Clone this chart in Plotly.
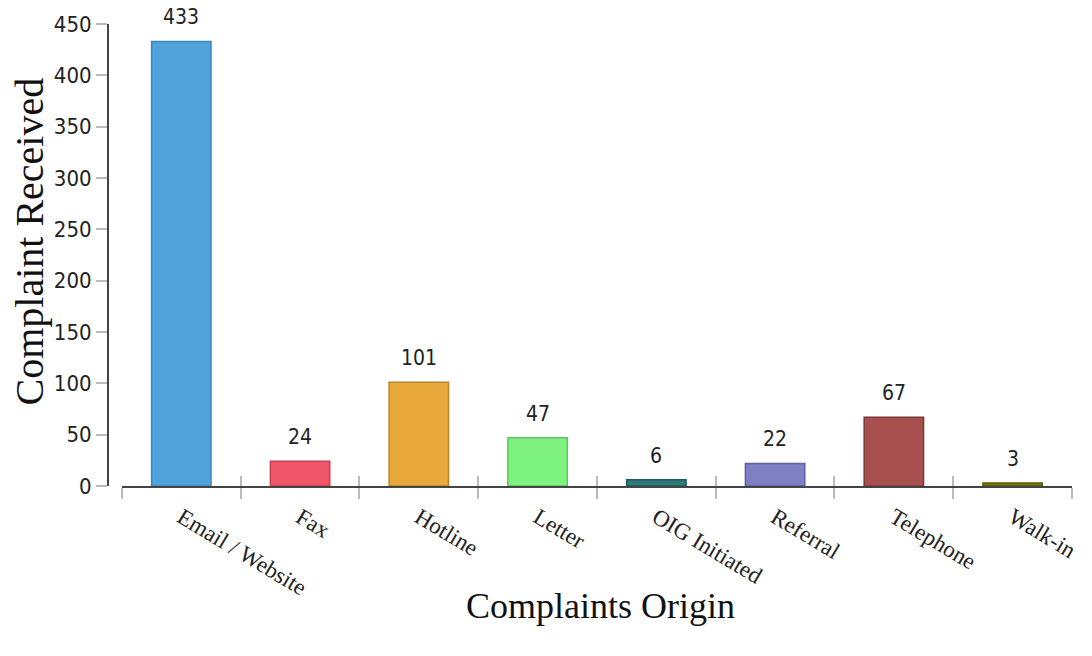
import plotly.graph_objects as go

categories = ["Email / Website", "Fax", "Hotline", "Letter", "OIG Initiated", "Referral", "Telephone", "Walk-in"]
values = [433, 24, 101, 47, 6, 22, 67, 3]
colors = ["#4FA3DA", "#F0566A", "#E8A93A", "#7EF27E", "#2E7A7A", "#7F80C4", "#A85050", "#7A7A10"]
outlines = ["#3A86BC", "#C8404F", "#B9832A", "#5CC45C", "#1F5A5A", "#5E60A0", "#7E3636", "#5A5A08"]
y_ticks = [0, 50, 100, 150, 200, 250, 300, 350, 400, 450]

W, H = 1092, 656
L, R, T, B = 108, 15, 22, 170
pw = W - L - R
ph = H - T - B
n = len(categories)
xrange_ = [-0.5, n - 0.5]

fig = go.Figure()
fig.add_trace(go.Bar(
    x=categories, y=values,
    marker=dict(color=colors, line=dict(color=outlines, width=1.5)),
    showlegend=False, hoverinfo="x+y",
))
# invisible trace on an overlaid linear axis that draws the inner half of the category ticks
fig.add_trace(go.Scatter(x=list(range(n)), y=[0] * n, xaxis="x2", yaxis="y",
                         mode="markers", marker=dict(opacity=0), showlegend=False, hoverinfo="skip"))

for c, v in zip(categories, values):
    fig.add_annotation(x=c, y=v, text=str(v), showarrow=False, yanchor="bottom", yshift=10,
                       font=dict(family="DejaVu Sans Condensed, DejaVu Sans", size=21, color="#222"))

fig.add_annotation(text="Complaint Received", xref="paper", yref="paper",
                   x=-(L - 29) / pw, y=(486 - 240) / ph, textangle=-90, showarrow=False,
                   xanchor="center", yanchor="middle",
                   font=dict(family="Liberation Serif", size=40, color="#111"))
fig.add_annotation(text="Complaints Origin", xref="paper", yref="paper",
                   x=(603 - L) / pw, y=-(607 - 486) / ph, showarrow=False,
                   xanchor="center", yanchor="middle",
                   font=dict(family="Liberation Serif", size=36, color="#111"))

fig.update_layout(
    width=W, height=H,
    margin=dict(l=L, r=R, t=T, b=B),
    plot_bgcolor="white", paper_bgcolor="white",
    bargap=0.5,
    xaxis=dict(
        domain=[14 / pw, 1], range=xrange_,
        categoryorder="array", categoryarray=categories,
        showline=True, linecolor="#444", linewidth=2,
        ticks="outside", tickson="boundaries", ticklen=11, tickcolor="#BBBBBB", tickwidth=1.5,
        tickangle=31, ticklabelstandoff=7,
        tickfont=dict(family="Liberation Serif", size=23, color="#222"),
        showgrid=False, zeroline=False,
    ),
    xaxis2=dict(
        type="linear", domain=[14 / pw, 1], range=xrange_, overlaying="x", anchor="y", side="bottom",
        tickmode="array", tickvals=[i - 0.5 for i in range(n + 1)],
        ticks="inside", ticklen=10, tickcolor="#BBBBBB", tickwidth=1.5,
        showticklabels=False, showline=False, showgrid=False, zeroline=False,
    ),
    yaxis=dict(
        range=[0, 450], anchor="free", position=0,
        tickvals=y_ticks,
        showline=True, linecolor="#444", linewidth=2,
        ticks="outside", ticklen=11, tickcolor="#BBBBBB", tickwidth=1.5,
        tickfont=dict(family="DejaVu Sans Condensed, DejaVu Sans", size=22, color="#222"),
        showgrid=False, zeroline=False,
    ),
)

fig.write_html("out.html")
